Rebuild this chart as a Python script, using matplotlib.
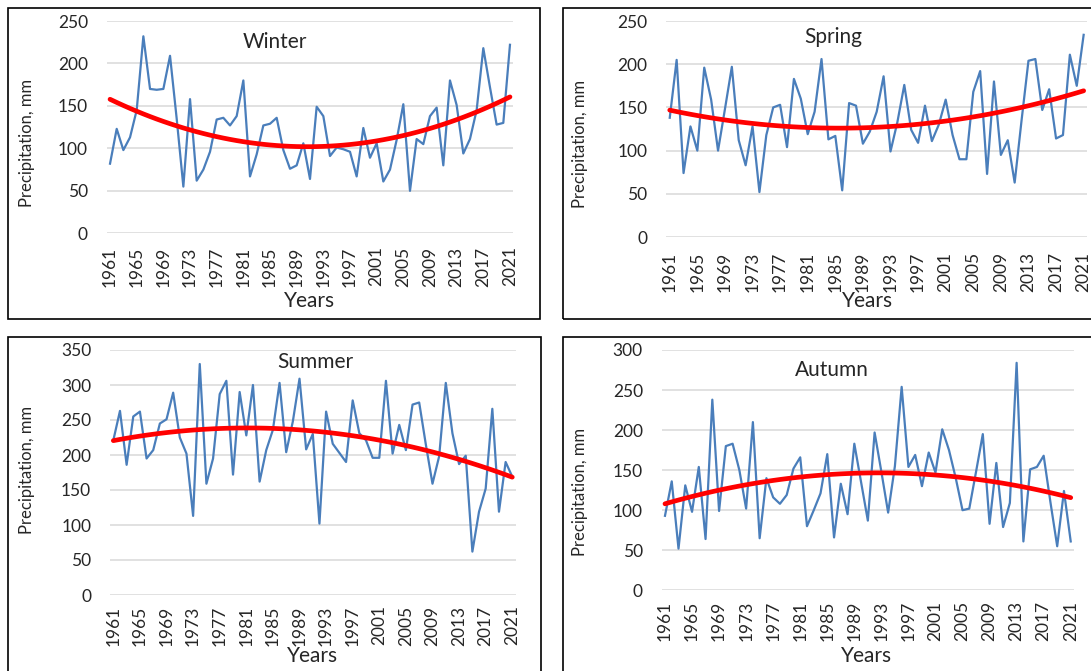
import numpy as np
import matplotlib
matplotlib.use("Agg")
import matplotlib.pyplot as plt
from matplotlib.patches import Rectangle

years = list(range(1961, 2022))
tick_years = list(range(1961, 2022, 4))

winter = [82, 123, 98, 113, 145, 232, 170, 169, 170, 209,
          135, 55, 158, 62, 75, 96, 134, 136, 127, 138,
          180, 67, 93, 127, 129, 136, 98, 76, 80, 106,
          64, 149, 138, 91, 101, 99, 96, 67, 124, 89,
          106, 61, 75, 110, 152, 50, 111, 105, 138, 148,
          80, 180, 151, 94, 111, 145, 218, 172, 128, 130,
          222]
spring = [138, 205, 74, 128, 100, 196, 159, 100, 148, 197,
          112, 83, 128, 52, 118, 150, 153, 104, 183, 160,
          119, 145, 206, 113, 117, 54, 155, 152, 108, 122,
          145, 186, 99, 133, 176, 124, 109, 152, 111, 130,
          159, 118, 90, 90, 168, 192, 73, 180, 95, 112,
          63, 135, 204, 206, 147, 171, 114, 118, 211, 175,
          234]
summer = [221, 263, 186, 255, 262, 195, 207, 245, 251, 289,
          225, 202, 113, 330, 159, 195, 287, 306, 172, 290,
          228, 300, 162, 207, 236, 303, 204, 248, 309, 208,
          230, 102, 262, 216, 203, 190, 278, 231, 221, 196,
          196, 306, 202, 243, 207, 272, 275, 215, 159, 198,
          303, 231, 187, 199, 62, 119, 152, 266, 119, 190,
          169]
autumn = [93, 136, 52, 131, 98, 154, 64, 238, 99, 180,
          183, 150, 102, 210, 65, 140, 116, 108, 119, 152,
          166, 80, 100, 121, 170, 66, 133, 95, 183, 135,
          87, 197, 148, 97, 155, 254, 154, 169, 130, 172,
          147, 201, 175, 140, 100, 102, 148, 195, 83, 159,
          79, 109, 284, 61, 151, 154, 168, 110, 55, 124,
          61]

W, H = 1091, 671
FONT = ["Lato", "DejaVu Sans"]
LINE_BLUE = "#4a7ebb"
GRID = "#d9d9d9"
TEXT = "#262626"


def fx(x):
    return x / W


def fy(y):
    return 1 - y / H


def add_panel(fig, series, title, ymax, ystep, box, axes_px, title_xy, ylab_xy, xlab_xy, xpad):
    # box is the outer frame, axes_px the plot area, all in pixels from top-left
    bx0, by0, bx1, by1 = box
    fig.patches.append(Rectangle((fx(bx0), fy(by1)), fx(bx1 - bx0), (by1 - by0) / H,
                                 transform=fig.transFigure, fill=False,
                                 edgecolor="black", linewidth=1.2))

    x0, y0, x1, y1 = axes_px
    ax = fig.add_axes([fx(x0), fy(y1), fx(x1 - x0), (y1 - y0) / H])
    ax.set_facecolor("none")

    yrs = np.array(years)
    vals = np.array(series, dtype=float)
    ax.plot(yrs, vals, color=LINE_BLUE, linewidth=1.6, zorder=3)
    coef = np.polyfit(yrs - 1990, vals, 2)
    ax.plot(yrs, np.polyval(coef, yrs - 1990), color="#ff0000", linewidth=3.4,
            solid_capstyle="round", zorder=4)

    ax.set_xlim(1960.5, 2021.5)
    ax.set_ylim(0, ymax)
    ax.set_yticks(range(0, ymax + 1, ystep))
    ax.set_xticks(tick_years)
    ax.set_xticklabels([str(y) for y in tick_years], rotation=90, va="top")
    ax.grid(axis="y", color=GRID, linewidth=1.1)
    ax.set_axisbelow(True)
    for s in ax.spines.values():
        s.set_visible(False)
    ax.tick_params(axis="both", length=0, labelsize=12.5, labelcolor=TEXT)
    ax.tick_params(axis="y", pad=13.5)
    ax.tick_params(axis="x", pad=xpad)
    for lab in ax.get_xticklabels() + ax.get_yticklabels():
        lab.set_family(FONT)

    fig.text(fx(title_xy[0]), fy(title_xy[1]), title, ha="center", va="center",
             fontsize=15, color=TEXT, family=FONT)
    fig.text(fx(ylab_xy[0]), fy(ylab_xy[1]), "Precipitation, mm", ha="center", va="center",
             rotation=90, fontsize=12, color=TEXT, family=FONT)
    fig.text(fx(xlab_xy[0]), fy(xlab_xy[1]), "Years", ha="center", va="center",
             fontsize=15, color=TEXT, family=FONT)
    return ax


def main():
    fig = plt.figure(figsize=(W / 100, H / 100), dpi=100)

    add_panel(fig, winter, "Winter", 250, 50,
              box=(8, 8, 540, 319), axes_px=(106.7, 21, 513.3, 233.3),
              title_xy=(275, 42), ylab_xy=(27, 143), xlab_xy=(310, 301), xpad=9.5)
    add_panel(fig, spring, "Spring", 250, 50,
              box=(563, 8, 1100, 319), axes_px=(666.3, 21, 1087.1, 237),
              title_xy=(833, 37), ylab_xy=(580, 144), xlab_xy=(868, 301), xpad=10.5)
    add_panel(fig, summer, "Summer", 350, 50,
              box=(8, 337, 541, 690), axes_px=(110, 350, 515.6, 595),
              title_xy=(315, 362), ylab_xy=(27, 470), xlab_xy=(313, 656), xpad=7.5)
    add_panel(fig, autumn, "Autumn", 300, 50,
              box=(563, 337, 1100, 690), axes_px=(661.6, 350, 1074.1, 590.3),
              title_xy=(832, 370), ylab_xy=(580, 492), xlab_xy=(867, 656), xpad=7.5)

    fig.savefig("out.png", dpi=100)
    plt.close(fig)


if __name__ == "__main__":
    main()
